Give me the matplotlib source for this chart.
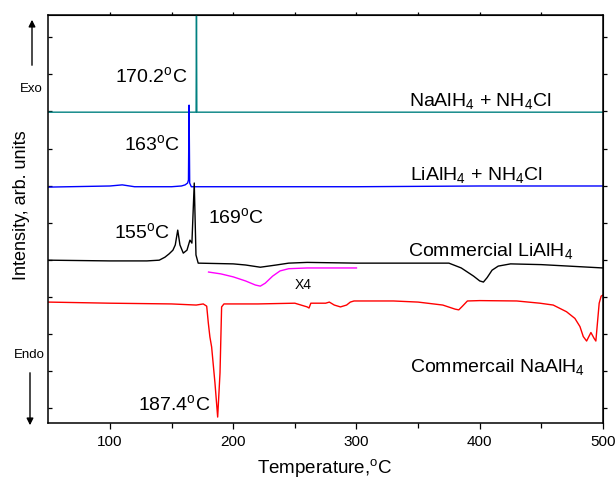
import matplotlib
matplotlib.use("Agg")
import matplotlib.pyplot as plt
import numpy as np

plt.rcParams['font.family'] = ['Liberation Sans', 'DejaVu Sans']
plt.rcParams['mathtext.fontset'] = 'custom'
plt.rcParams['mathtext.rm'] = 'Liberation Sans'
plt.rcParams['mathtext.it'] = 'Liberation Sans:italic'
plt.rcParams['mathtext.bf'] = 'Liberation Sans:bold'

# ---- data (temperature in degC, signal in arb. units) ----
t_na_nh4cl = [50, 169.9, 170.2, 170.5, 500]
s_na_nh4cl = [8.38, 8.38, 11.5, 8.38, 8.38]

t_li_nh4cl = [50, 100, 110, 120, 150, 158, 161, 163, 163.7, 164.2, 164.7, 166, 200, 300, 400, 500]
s_li_nh4cl = [6.36, 6.39, 6.42, 6.37, 6.37, 6.39, 6.42, 6.47, 6.55, 8.57, 6.47, 6.37, 6.37, 6.37, 6.39, 6.39]

t_li = [50, 100, 130, 140, 144.6, 148, 151.1, 153, 155, 156.8, 159.5, 162.5, 164.9, 166.5,
        168.4, 169.8, 171.6, 200, 210, 222, 235, 245, 260, 300, 350, 375,
        385, 395, 400, 403, 406, 410, 415, 425, 450, 500]
s_li = [4.39, 4.37, 4.37, 4.39, 4.47, 4.56, 4.66, 4.80, 5.20, 4.80, 4.58, 4.66, 4.93, 4.85,
        6.47, 4.53, 4.31, 4.29, 4.26, 4.20, 4.26, 4.31, 4.33, 4.31, 4.31, 4.31,
        4.18, 3.96, 3.83, 3.80, 3.92, 4.12, 4.23, 4.29, 4.27, 4.18]

t_x4 = [180, 190, 200, 210, 218, 222, 226, 232, 238, 245, 260, 300]
s_x4 = [4.07, 4.02, 3.94, 3.83, 3.72, 3.69, 3.77, 3.96, 4.10, 4.16, 4.18, 4.18]

t_na = [50, 100, 150, 170, 175.7, 178.5, 179.8, 181.1, 182.5, 185.2, 187.4, 189.3, 190.6, 192.5,
        220, 250, 255, 260, 261.5, 263, 275, 278, 282, 287, 292, 295, 298, 330, 350,
        370, 380, 383, 386, 390, 400, 430, 448.8, 459.6, 470.4, 477.2, 481.3, 484.0, 486.7,
        490.2, 492.8, 494.2, 496.9, 498.5, 500]
s_na = [3.26, 3.23, 3.21, 3.18, 3.21, 3.15, 2.70, 2.32, 2.05, 1.08, 0.16, 1.35, 3.13, 3.21,
        3.21, 3.23, 3.18, 3.13, 3.10, 3.23, 3.23, 3.26, 3.18, 3.13, 3.18, 3.26, 3.29, 3.29, 3.26,
        3.18, 3.07, 3.05, 3.15, 3.29, 3.30, 3.29, 3.23, 3.18, 3.00, 2.82, 2.60, 2.33, 2.21,
        2.44, 2.28, 2.21, 3.23, 3.42, 3.45]

x_major = [100, 200, 300, 400, 500]

fig = plt.figure(figsize=(6.16, 4.79), dpi=100)
ax = fig.add_axes([48.3/616, 1-423/479, (603-48.3)/616, (423-15)/479])

ax.plot(t_na_nh4cl, s_na_nh4cl, color='#008080', lw=1.0)
ax.plot(t_li_nh4cl, s_li_nh4cl, color='#0000ff', lw=1.0)
ax.plot(t_li, s_li, color='black', lw=1.0)
ax.plot(t_x4, s_x4, color='#ff00ff', lw=1.0)
ax.plot(t_na, s_na, color='#ff0000', lw=1.0)

ax.set_xlim(50, 500)
ax.set_ylim(0, 11)
ax.set_xticks(x_major)
ax.set_xticks([150, 250, 350, 450], minor=True)
ax.set_yticks(np.arange(0.4, 10.5, 1.0))
ax.set_yticklabels([])
ax.tick_params(axis='x', direction='out', length=4.3, width=0.9, labelsize=11, pad=4)
ax.tick_params(axis='x', which='minor', direction='out', length=3.5, width=0.9)
ax.tick_params(axis='y', direction='in', length=3, width=0.9)
for sp in ax.spines.values():
    sp.set_linewidth(1.1)

top = ax.secondary_xaxis('top')
top.set_xticks([100, 150, 200, 250, 300, 350, 400, 450])
top.set_xticklabels([])
top.tick_params(direction='out', length=2, width=0.9)
right = ax.secondary_yaxis('right')
right.set_yticks(np.arange(0.4, 10.5, 1.0))
right.set_yticklabels([])
right.tick_params(direction='out', length=3, width=0.9)

deg = r'$^{\mathrm{o}}$C'
fs = 14
ax.text(162.5, 9.19, '170.2' + deg, fontsize=fs, ha='right', va='baseline')
ax.text(342.5, 8.54, r'NaAlH$_4$ + NH$_4$Cl', fontsize=fs, ha='left', va='baseline')
ax.text(156.8, 7.36, '163' + deg, fontsize=fs, ha='right', va='baseline')
ax.text(343.3, 6.55, r'LiAlH$_4$ + NH$_4$Cl', fontsize=fs, ha='left', va='baseline')
ax.text(148.7, 4.99, '155' + deg, fontsize=fs, ha='right', va='baseline')
ax.text(179.5, 5.39, '169' + deg, fontsize=fs, ha='left', va='baseline')
ax.text(341.7, 4.50, r'Commercial LiAlH$_4$', fontsize=fs, ha='left', va='baseline')
ax.text(250, 3.61, 'X4', fontsize=10, ha='left', va='baseline')
ax.text(343.3, 1.37, r'Commercail NaAlH$_4$', fontsize=fs, ha='left', va='baseline')
ax.text(122.7, 0.35, '187.4' + deg, fontsize=fs, ha='left', va='baseline')

fig.text(325/616, 1-468/479, 'Temperature,' + deg, fontsize=13.5, ha='center', va='center')
fig.text(22/616, 1-205/479, 'Intensity, arb. units', fontsize=13, ha='center', va='center', rotation=90)
fig.text(31/616, 1-89/479, 'Exo', fontsize=9.5, ha='center', va='center')
fig.text(29/616, 1-355/479, 'Endo', fontsize=9.5, ha='center', va='center')
fig.add_artist(matplotlib.patches.FancyArrowPatch((32/616, 1-68/479), (32/616, 1-17/479),
               transform=fig.transFigure, arrowstyle='-|>', mutation_scale=10, color='black', lw=1.0))
fig.add_artist(matplotlib.patches.FancyArrowPatch((30/616, 1-370/479), (30/616, 1-428/479),
               transform=fig.transFigure, arrowstyle='-|>', mutation_scale=10, color='black', lw=1.0))

fig.savefig('out.png', dpi=100)
